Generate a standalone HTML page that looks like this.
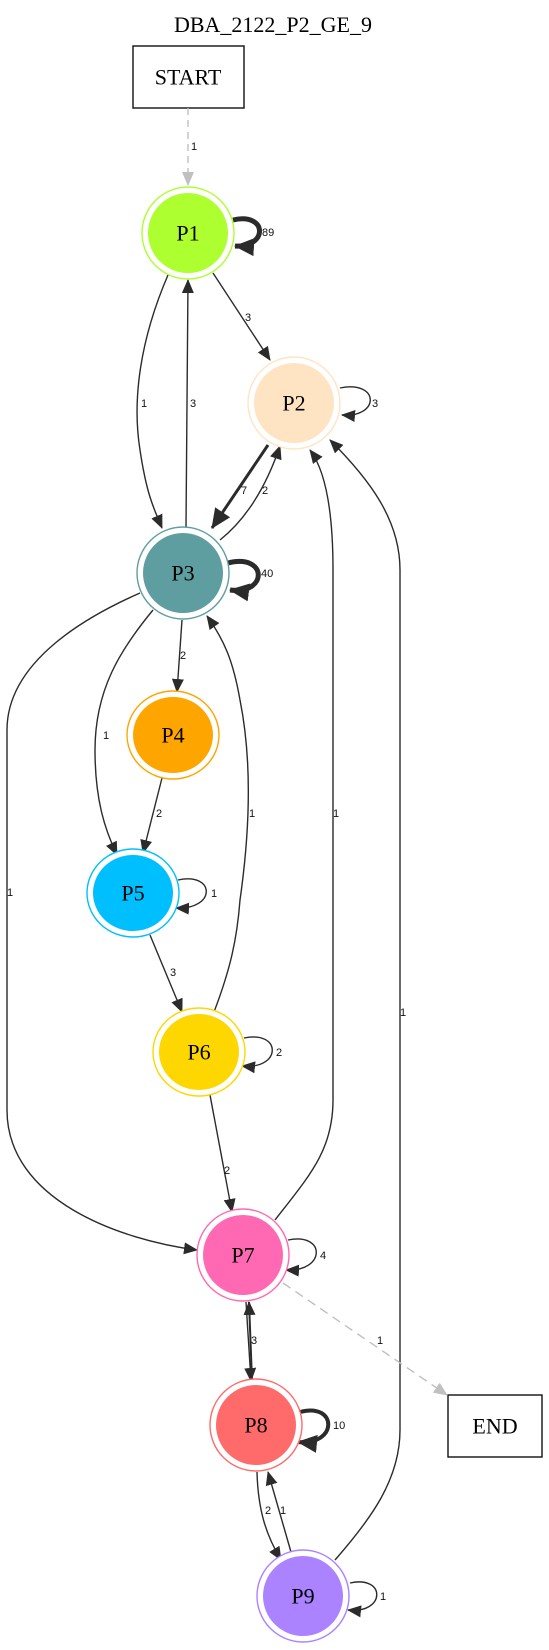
<!DOCTYPE html>
<html><head><meta charset="utf-8"><style>
html,body{margin:0;padding:0;background:#fff}
svg{display:block}
.n{font-family:"Liberation Serif",serif;font-size:22px;text-anchor:middle;dominant-baseline:central}
.l{font-family:"Liberation Sans",sans-serif;font-size:11px;fill:#111}
.e{fill:none;stroke:#2b2b2b;stroke-width:1.4}
</style></head><body>
<svg width="549" height="1650" viewBox="0 0 549 1650" xmlns="http://www.w3.org/2000/svg">
<defs>
<marker id="a" markerUnits="userSpaceOnUse" markerWidth="14" markerHeight="12" refX="13" refY="6" orient="auto"><path d="M0,0 L14,6 L0,12 Z" fill="#2b2b2b"/></marker>
<marker id="b" markerUnits="userSpaceOnUse" markerWidth="20" markerHeight="18" refX="19" refY="9" orient="auto"><path d="M0,0 L20,9 L0,18 Z" fill="#2b2b2b"/></marker>
<marker id="g" markerUnits="userSpaceOnUse" markerWidth="14" markerHeight="12" refX="13" refY="6" orient="auto"><path d="M0,0 L14,6 L0,12 Z" fill="#c0c0c0"/></marker>
</defs>
<text x="273" y="32" font-family="Liberation Serif,serif" font-size="22" text-anchor="middle">DBA_2122_P2_GE_9</text>
<rect x="133" y="46" width="111" height="62" fill="#fff" stroke="#111" stroke-width="1.4"/>
<text class="n" x="188" y="77">START</text>
<rect x="448" y="1395" width="94" height="62" fill="#fff" stroke="#111" stroke-width="1.4"/>
<text class="n" x="495" y="1426">END</text>

<path d="M188,108 L188,185" stroke="#c0c0c0" stroke-width="1.4" stroke-dasharray="7,5" fill="none" marker-end="url(#g)"/>
<text class="l" x="191" y="150">1</text>
<path class="e" d="M233,220 C268,212 268,248 235,246" style="stroke-width:5" marker-end="url(#b)"/>
<text class="l" x="262" y="236">89</text>
<path class="e" d="M168,275 C140,340 132,400 140,450 C146,490 152,505 162,528" marker-end="url(#a)"/>
<text class="l" x="141" y="407">1</text>
<path class="e" d="M186,527 L188,280" marker-end="url(#a)"/>
<text class="l" x="190" y="407">3</text>
<path class="e" d="M213,273 L270,360" marker-end="url(#a)"/>
<text class="l" x="245" y="321">3</text>
<path class="e" d="M340,388 C380,380 380,418 342,415" marker-end="url(#a)"/>
<text class="l" x="372" y="407">3</text>
<path class="e" d="M268,445 L212,528" style="stroke-width:3" marker-end="url(#b)"/>
<text class="l" x="241" y="494">7</text>
<path class="e" d="M220,540 C245,520 265,490 280,446" marker-end="url(#a)"/>
<text class="l" x="262" y="494">2</text>
<path class="e" d="M228,563 C268,553 268,595 230,590" style="stroke-width:5" marker-end="url(#b)"/>
<text class="l" x="261" y="577">40</text>
<path class="e" d="M140,593 C90,615 7,660 7,730 L7,1110 C7,1200 120,1240 197,1250" marker-end="url(#a)"/>
<text class="l" x="7" y="896">1</text>
<path class="e" d="M153,610 C120,650 95,690 95,750 C95,800 105,830 117,855" marker-end="url(#a)"/>
<text class="l" x="103" y="739">1</text>
<path class="e" d="M182,620 L177,692" marker-end="url(#a)"/>
<text class="l" x="180" y="659">2</text>
<path class="e" d="M162,778 L143,853" marker-end="url(#a)"/>
<text class="l" x="156" y="817">2</text>
<path class="e" d="M178,880 C216,872 216,910 176,908" marker-end="url(#a)"/>
<text class="l" x="211" y="897">1</text>
<path class="e" d="M150,935 L182,1012" marker-end="url(#a)"/>
<text class="l" x="170" y="976">3</text>
<path class="e" d="M214,1012 C230,970 237,940 240,900 C250,830 252,760 240,700 C233,660 224,640 207,616" marker-end="url(#a)"/>
<text class="l" x="249" y="817">1</text>
<path class="e" d="M244,1038 C282,1030 282,1070 242,1066" marker-end="url(#a)"/>
<text class="l" x="276" y="1056">2</text>
<path class="e" d="M210,1095 L232,1212" marker-end="url(#a)"/>
<text class="l" x="224" y="1174">2</text>
<path class="e" d="M275,1220 C310,1175 333,1150 333,1100 L333,570 C333,510 325,470 310,450" marker-end="url(#a)"/>
<text class="l" x="333" y="817">1</text>
<path class="e" d="M335,1560 C370,1520 400,1480 400,1430 L400,570 C400,520 370,480 330,440" marker-end="url(#a)"/>
<text class="l" x="400" y="1016">1</text>
<path class="e" d="M288,1240 C326,1232 326,1272 286,1270" marker-end="url(#a)"/>
<text class="l" x="320" y="1259">4</text>
<path d="M283,1283 L447,1395" stroke="#c0c0c0" stroke-width="1.4" stroke-dasharray="9,6" fill="none" marker-end="url(#g)"/>
<text class="l" x="377" y="1344">1</text>
<path class="e" d="M252,1380 L249,1302" style="stroke-width:2" marker-end="url(#a)"/>
<path class="e" d="M246,1302 L251,1381" marker-end="url(#a)"/>
<text class="l" x="251" y="1344">3</text>
<path class="e" d="M300,1412 C338,1402 338,1446 298,1442" style="stroke-width:4" marker-end="url(#b)"/>
<text class="l" x="333" y="1429">10</text>
<path class="e" d="M257,1472 C258,1510 266,1535 281,1560" marker-end="url(#a)"/>
<text class="l" x="265" y="1514">2</text>
<path class="e" d="M291,1552 L268,1472" marker-end="url(#a)"/>
<text class="l" x="280" y="1514">1</text>
<path class="e" d="M350,1583 C386,1575 386,1614 348,1610" marker-end="url(#a)"/>
<text class="l" x="380" y="1600">1</text>

<g stroke-width="1.4" fill="#fff">
<circle cx="188" cy="233" r="46" stroke="#adff2f"/><circle cx="188" cy="233" r="40" fill="#adff2f"/>
<circle cx="294" cy="403" r="46" stroke="#ffe4c4"/><circle cx="294" cy="403" r="40" fill="#ffe4c4"/>
<circle cx="183" cy="573" r="46" stroke="#5f9ea0"/><circle cx="183" cy="573" r="40" fill="#5f9ea0"/>
<ellipse cx="173" cy="735" rx="46" ry="44" stroke="#ffa500"/><ellipse cx="173" cy="735" rx="40" ry="38" fill="#ffa500"/>
<ellipse cx="133" cy="893" rx="46" ry="44" stroke="#00bfff"/><ellipse cx="133" cy="893" rx="40" ry="38" fill="#00bfff"/>
<ellipse cx="199" cy="1052" rx="46" ry="44" stroke="#ffd700"/><ellipse cx="199" cy="1052" rx="40" ry="38" fill="#ffd700"/>
<circle cx="243" cy="1255" r="46" stroke="#ff69b4"/><circle cx="243" cy="1255" r="40" fill="#ff69b4"/>
<circle cx="256" cy="1425" r="46" stroke="#ff6a6a"/><circle cx="256" cy="1425" r="40" fill="#ff6a6a"/>
<circle cx="303" cy="1596" r="46" stroke="#ab82ff"/><circle cx="303" cy="1596" r="40" fill="#ab82ff"/>
</g>
<text class="n" x="188" y="233">P1</text>
<text class="n" x="294" y="403">P2</text>
<text class="n" x="183" y="573">P3</text>
<text class="n" x="173" y="735">P4</text>
<text class="n" x="133" y="893">P5</text>
<text class="n" x="199" y="1052">P6</text>
<text class="n" x="243" y="1255">P7</text>
<text class="n" x="256" y="1425">P8</text>
<text class="n" x="303" y="1596">P9</text>
</svg>
</body></html>
